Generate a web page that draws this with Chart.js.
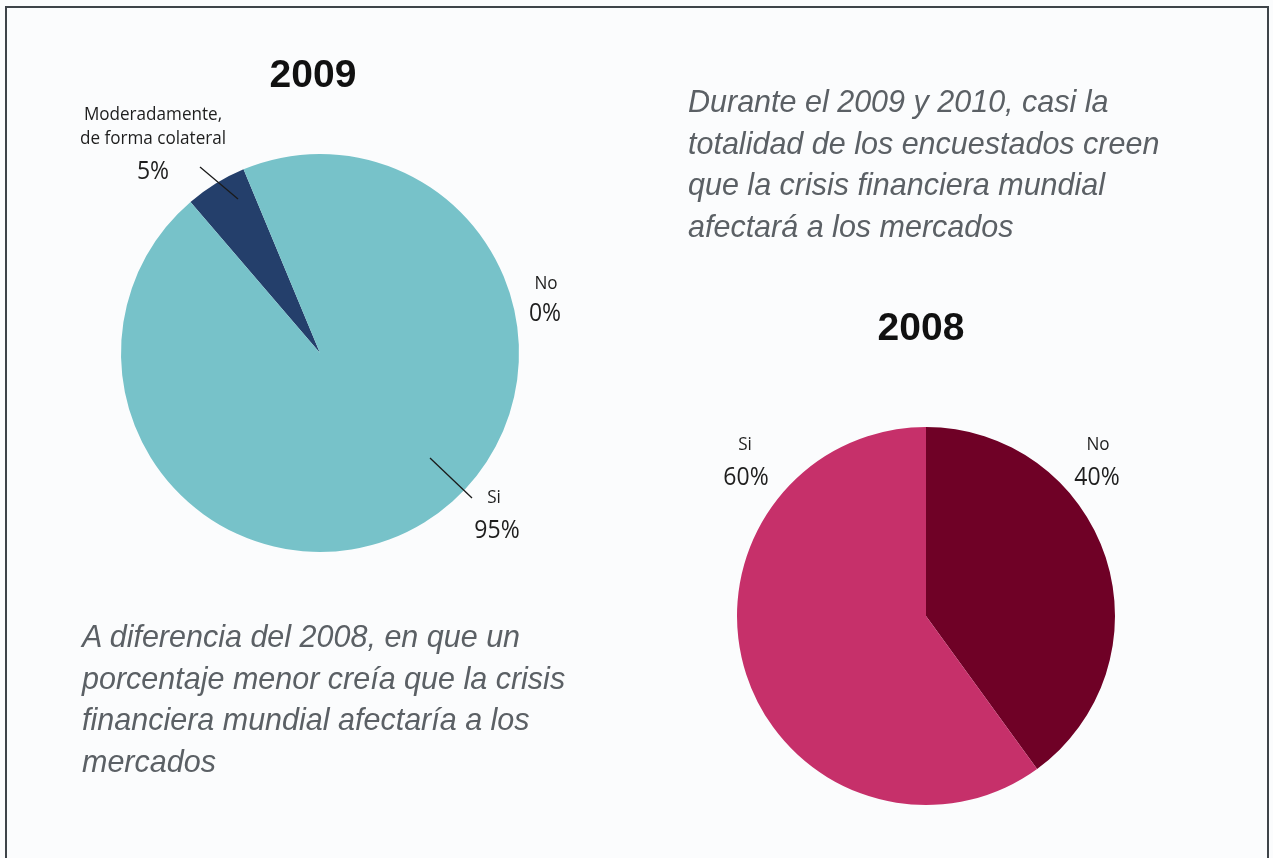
<!DOCTYPE html>
<html>
<head>
<meta charset="utf-8">
<script src="https://cdn.jsdelivr.net/npm/chart.js@4/dist/chart.umd.min.js"></script>
<style>
  html, body { margin: 0; padding: 0; }
  body { width: 1273px; height: 858px; overflow: hidden; background: #fbfcfd; position: relative; }
  #frame { position: absolute; left: 5px; top: 6px; width: 1264px; height: 870px; border: 2px solid #3e4449; box-sizing: border-box; }
  canvas { position: absolute; left: 0; top: 0; }
  .title { position: absolute; font-family: "Liberation Sans", Arial, sans-serif; font-weight: bold; font-size: 39px; color: #111; transform: translateX(-50%); }
  .note { position: absolute; font-family: "Liberation Sans", Arial, sans-serif; font-style: italic; font-size: 30.5px; line-height: 41.5px; color: #5b6065; }
</style>
</head>
<body>
<div id="frame"></div>
<canvas id="pie2009" width="1273" height="858"></canvas>
<canvas id="pie2008" width="1273" height="858"></canvas>
<div class="title" style="left:313px; top:52px;">2009</div>
<div class="title" style="left:921px; top:305px;">2008</div>
<div class="note" style="left:688px; top:81px;">Durante el 2009 y 2010, casi la<br>totalidad de los encuestados creen<br>que la crisis financiera mundial<br>afectará a los mercados</div>
<div class="note" style="left:82px; top:616px;">A diferencia del 2008, en que un<br>porcentaje menor creía que la crisis<br>financiera mundial afectaría a los<br>mercados</div>
<script>
// 2009
const labels2009 = ["Moderadamente, de forma colateral", "No", "Si"];
const values2009 = [5, 0, 95];
const colors2009 = ["#243f6b", "#77c2c9", "#77c2c9"];

// 2008
const labels2008 = ["No", "Si"];
const values2008 = [40, 60];
const colors2008 = ["#6f0126", "#c6306a"];

// draws text squeezed horizontally (the original uses a narrow sans)
function narrowText(ctx, txt, x, y, sx) {
  ctx.save();
  ctx.translate(x, y);
  ctx.scale(sx, 1);
  ctx.fillText(txt, 0, 0);
  ctx.restore();
}

// label text + leader lines, placed per slice
const sliceLabels = {
  id: "sliceLabels",
  afterDraw(chart, args, opts) {
    const ctx = chart.ctx;
    ctx.save();
    ctx.fillStyle = "#1e1e1e";
    ctx.textAlign = "center";
    ctx.textBaseline = "alphabetic";
    opts.items.forEach((it) => {
      const val = chart.data.datasets[0].data[it.index];
      const lines = it.name.split("|");
      ctx.font = "19px 'Open Sans', sans-serif";
      lines.forEach((ln, k) => {
        narrowText(ctx, ln, it.x, it.y + k * 24, 0.9);
      });
      ctx.font = "25px 'Open Sans', sans-serif";
      narrowText(ctx, val + "%", it.px, it.py, 0.92);
      if (it.line) {
        ctx.strokeStyle = "#1a1a1a";
        ctx.lineWidth = 1.3;
        ctx.beginPath();
        ctx.moveTo(it.line[0], it.line[1]);
        ctx.lineTo(it.line[2], it.line[3]);
        ctx.stroke();
      }
    });
    ctx.restore();
  },
};

Chart.defaults.animation = false;

new Chart("pie2009", {
  type: "pie",
  data: {
    labels: labels2009,
    datasets: [{ data: values2009, backgroundColor: colors2009, borderWidth: 0 }],
  },
  options: {
    responsive: false,
    devicePixelRatio: 1,
    rotation: -40.6,
    layout: { padding: { left: 121, top: 153, right: 754, bottom: 305 } },
    plugins: {
      legend: { display: false },
      tooltip: { enabled: false },
      sliceLabels: {
        items: [
          { index: 0, name: "Moderadamente,|de forma colateral", x: 153, y: 120, px: 153, py: 179, line: [200, 167, 238, 199] },
          { index: 1, name: "No", x: 546, y: 289, px: 545, py: 321 },
          { index: 2, name: "Si", x: 494, y: 503, px: 497, py: 538, line: [430, 458, 472, 498] },
        ],
      },
    },
  },
  plugins: [sliceLabels],
});

new Chart("pie2008", {
  type: "pie",
  data: {
    labels: labels2008,
    datasets: [{ data: values2008, backgroundColor: colors2008, borderWidth: 0 }],
  },
  options: {
    responsive: false,
    devicePixelRatio: 1,
    layout: { padding: { left: 737, top: 427, right: 158, bottom: 53 } },
    plugins: {
      legend: { display: false },
      tooltip: { enabled: false },
      sliceLabels: {
        items: [
          { index: 0, name: "No", x: 1098, y: 450, px: 1097, py: 485 },
          { index: 1, name: "Si", x: 745, y: 450, px: 746, py: 485 },
        ],
      },
    },
  },
  plugins: [sliceLabels],
});
</script>
</body>
</html>
